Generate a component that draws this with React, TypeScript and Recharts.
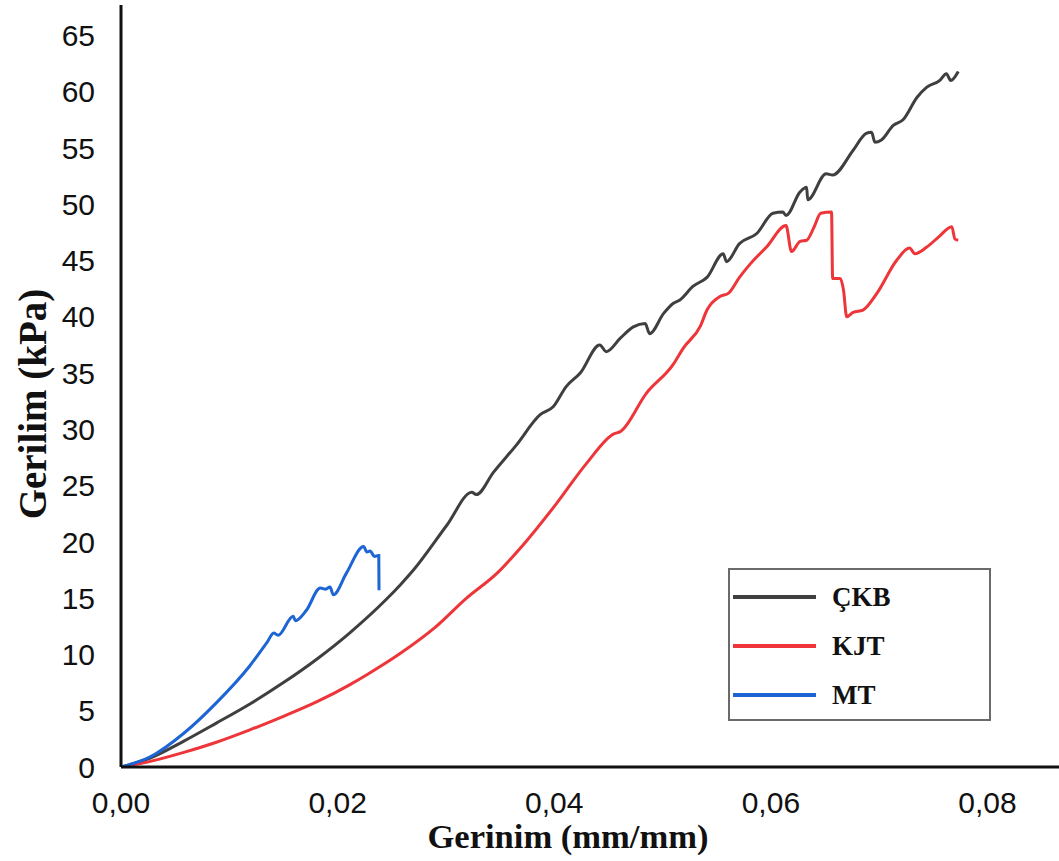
import { LineChart, Line, XAxis, YAxis, Label } from 'recharts';

// Gerinim (mm/mm) / Gerilim (kPa) readings per sample
const ckbStrain = [0, 0.0027, 0.0058, 0.0088, 0.0119, 0.015, 0.0181, 0.0211, 0.0245, 0.0258, 0.027, 0.0301, 0.0324, 0.0328, 0.0344, 0.0365, 0.0387, 0.0399, 0.0411, 0.0424, 0.0442, 0.0448, 0.0461, 0.0473, 0.0484, 0.0488, 0.0501, 0.051, 0.0516, 0.0528, 0.0541, 0.0556, 0.0559, 0.0571, 0.0587, 0.0602, 0.0611, 0.0614, 0.0627, 0.0633, 0.0634, 0.0651, 0.0657, 0.0676, 0.0688, 0.0693, 0.0696, 0.0702, 0.0713, 0.0722, 0.0735, 0.0744, 0.0756, 0.0762, 0.0766, 0.0773];
const ckbStress = [0, 0.8, 2.3, 3.9, 5.6, 7.5, 9.6, 11.9, 14.9, 16.2, 17.5, 21.5, 24.4, 24.2, 26.2, 28.6, 31.3, 32.0, 33.8, 35.0, 37.5, 36.9, 38.1, 39.1, 39.4, 38.5, 40.3, 41.2, 41.5, 42.7, 43.5, 45.6, 44.9, 46.5, 47.4, 49.2, 49.3, 49.0, 51.1, 51.5, 50.4, 52.7, 52.6, 54.8, 56.3, 56.4, 55.5, 55.7, 57.0, 57.5, 59.5, 60.4, 61.0, 61.6, 61.0, 61.8];

const kjtStrain = [0, 0.0027, 0.0058, 0.0088, 0.0119, 0.015, 0.0181, 0.0211, 0.0227, 0.0258, 0.029, 0.0319, 0.0347, 0.0371, 0.0402, 0.043, 0.0455, 0.0461, 0.0485, 0.051, 0.0519, 0.0535, 0.0541, 0.0553, 0.0561, 0.0571, 0.0581, 0.0596, 0.0614, 0.0619, 0.0627, 0.0633, 0.064, 0.0646, 0.0656, 0.0657, 0.0664, 0.0667, 0.067, 0.0676, 0.0685, 0.0698, 0.0716, 0.0728, 0.0733, 0.0744, 0.0755, 0.0767, 0.077, 0.0773];
const kjtStress = [0, 0.5, 1.3, 2.2, 3.3, 4.5, 5.8, 7.3, 8.2, 10.1, 12.4, 15.0, 17.2, 19.7, 23.4, 27.0, 29.6, 29.8, 33.2, 35.8, 37.2, 39.2, 40.6, 41.8, 42.1, 43.5, 44.7, 46.2, 48.1, 45.8, 46.7, 46.8, 48.0, 49.2, 49.3, 43.4, 43.4, 42.4, 40.0, 40.4, 40.6, 42.1, 45.0, 46.1, 45.6, 46.2, 47.1, 48.0, 46.9, 46.8];

const mtStrain = [0, 0.0027, 0.0058, 0.0088, 0.0119, 0.0135, 0.0141, 0.0145, 0.0159, 0.0161, 0.0171, 0.0184, 0.0189, 0.0193, 0.0196, 0.0208, 0.0224, 0.0227, 0.023, 0.0234, 0.0238, 0.02382];
const mtStress = [0, 0.9, 3.0, 5.7, 9.0, 11.1, 11.9, 11.7, 13.4, 13.0, 13.9, 15.9, 15.8, 16.0, 15.3, 17.2, 19.6, 19.1, 19.2, 18.7, 18.8, 15.7];

const xTicks = [0, 0.02, 0.04, 0.06, 0.08];
const yTicks = [0, 5, 10, 15, 20, 25, 30, 35, 40, 45, 50, 55, 60, 65];

const toPoints = (xs: number[], ys: number[]) => xs.map((x, i) => ({ x, y: ys[i] }));

const series = [
  { name: 'ÇKB', color: '#3f3f3f', data: toPoints(ckbStrain, ckbStress) },
  { name: 'KJT', color: '#ee3539', data: toPoints(kjtStrain, kjtStress) },
  { name: 'MT', color: '#1d64d4', data: toPoints(mtStrain, mtStress) },
];

const serif = '"Liberation Serif", "Times New Roman", serif';
const sans = '"Liberation Sans", Arial, sans-serif';

function ChartLegend() {
  return (
    <div
      style={{
        position: 'absolute',
        left: 728,
        top: 568,
        width: 263,
        height: 153,
        boxSizing: 'border-box',
        border: '2px solid #6a6a6a',
        background: '#fff',
      }}
    >
      {series.map((s, i) => (
        <div
          key={s.name}
          style={{ position: 'absolute', left: 3, top: 10 + i * 49, height: 34, display: 'flex', alignItems: 'center' }}
        >
          <div style={{ width: 83, height: 4, background: s.color }} />
          <span style={{ marginLeft: 16, fontFamily: serif, fontWeight: 'bold', fontSize: 27, color: '#111' }}>
            {s.name}
          </span>
        </div>
      ))}
    </div>
  );
}

export default function App() {
  return (
    <div style={{ position: 'absolute', left: 0, top: 0, width: 1059, height: 861, background: '#fff' }}>
      <LineChart width={1059} height={861} margin={{ top: 5, right: 0, bottom: 0, left: 0 }}>
        <XAxis
          type="number"
          dataKey="x"
          domain={[0, 0.0866]}
          ticks={xTicks}
          allowDataOverflow
          height={94}
          tickSize={0}
          tickMargin={25}
          tickFormatter={(v: number) => v.toFixed(2).replace('.', ',')}
          axisLine={{ stroke: '#111', strokeWidth: 3 }}
          tick={{ fill: '#111', fontSize: 30, fontFamily: sans }}
        >
          <Label
            content={() => (
              <text
                x={568}
                y={848}
                textAnchor="middle"
                textLength={281}
                lengthAdjust="spacingAndGlyphs"
                fontFamily={serif}
                fontWeight="bold"
                fontSize={34}
                fill="#111"
              >
                Gerinim (mm/mm)
              </text>
            )}
          />
        </XAxis>
        <YAxis
          type="number"
          domain={[0, 67.7]}
          ticks={yTicks}
          allowDataOverflow
          width={121}
          tickSize={0}
          tickMargin={26}
          axisLine={{ stroke: '#111', strokeWidth: 3 }}
          tick={{ fill: '#111', fontSize: 30, fontFamily: sans }}
        >
          <Label
            content={() => (
              <text
                x={46}
                y={404}
                transform="rotate(-90 46 404)"
                textAnchor="middle"
                fontFamily={serif}
                fontWeight="bold"
                fontSize={39}
                fill="#111"
              >
                Gerilim (kPa)
              </text>
            )}
          />
        </YAxis>
        {series.map((s) => (
          <Line
            key={s.name}
            data={s.data}
            dataKey="y"
            name={s.name}
            type="monotone"
            stroke={s.color}
            strokeWidth={3}
            dot={false}
            isAnimationActive={false}
          />
        ))}
      </LineChart>
      <ChartLegend />
    </div>
  );
}
